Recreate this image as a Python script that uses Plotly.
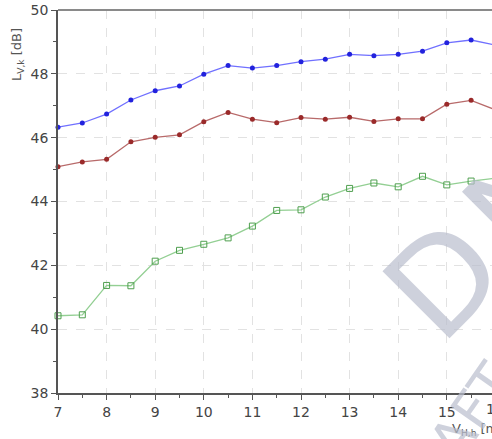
import plotly.graph_objects as go

wind_speed = [7.0, 7.5, 8.0, 8.5, 9.0, 9.5, 10.0, 10.5, 11.0, 11.5, 12.0, 12.5,
              13.0, 13.5, 14.0, 14.5, 15.0, 15.5, 16.0]
level_blue = [46.33, 46.46, 46.74, 47.18, 47.47, 47.62, 47.99, 48.26, 48.18, 48.26,
              48.38, 48.46, 48.61, 48.57, 48.61, 48.71, 48.97, 49.06, 48.90]
level_red = [45.09, 45.24, 45.32, 45.87, 46.01, 46.09, 46.50, 46.79, 46.58, 46.47,
             46.63, 46.58, 46.64, 46.51, 46.59, 46.59, 47.05, 47.17, 46.87]
level_green = [40.42, 40.45, 41.37, 41.36, 42.13, 42.47, 42.66, 42.86, 43.23, 43.72,
               43.74, 44.14, 44.41, 44.58, 44.46, 44.79, 44.52, 44.64, 44.73]
x_ticks = [7, 8, 9, 10, 11, 12, 13, 14, 15]
y_ticks = [38, 40, 42, 44, 46, 48, 50]

W, H = 492, 439
ML, MR, MT, MB = 58, 0, 10, 46
x_range = [7, 15.93]
y_range = [38, 50]

fig = go.Figure()
fig.add_trace(go.Scatter(x=wind_speed, y=level_green, mode="lines+markers",
                         line=dict(color="#93cf93", width=1.3),
                         marker=dict(symbol="square-open", size=6, color="#4f9f4f",
                                     line=dict(width=1)),
                         cliponaxis=False, showlegend=False))
fig.add_trace(go.Scatter(x=wind_speed, y=level_red, mode="lines+markers",
                         line=dict(color="#b86a6a", width=1.3),
                         marker=dict(symbol="circle", size=5, color="#9a2a2a"),
                         cliponaxis=False, showlegend=False))
fig.add_trace(go.Scatter(x=wind_speed, y=level_blue, mode="lines+markers",
                         line=dict(color="#7070ff", width=1.3),
                         marker=dict(symbol="circle", size=5, color="#2222dd"),
                         cliponaxis=False, showlegend=False))

tickfont = dict(family="DejaVu Sans", size=14, color="#444444")
fig.update_xaxes(range=x_range, tickvals=x_ticks, ticks="outside", ticklen=5,
                 tickcolor="#555555", showline=True, linecolor="#555555", linewidth=1.5,
                 showgrid=True, gridcolor="#e2e2e2", griddash="dash", gridwidth=1,
                 zeroline=False, tickfont=tickfont,
                 minor=dict(dtick=0.5, ticks="outside", ticklen=3, tickcolor="#555555",
                            showgrid=False))
fig.update_yaxes(range=y_range, tickvals=y_ticks, ticks="outside", ticklen=5,
                 tickcolor="#555555", showline=True, linecolor="#555555", linewidth=1.5,
                 showgrid=True, gridcolor="#e2e2e2", griddash="dash", gridwidth=1,
                 zeroline=False, tickfont=tickfont,
                 minor=dict(dtick=1, ticks="outside", ticklen=3, tickcolor="#555555",
                            showgrid=False))

pw = W - ML - MR
ph = H - MT - MB

def px(xp):
    return (xp - ML) / pw

def py(yp):
    return (H - MB - yp) / ph

wm = "rgba(185,190,205,0.7)"
annotations = [
    # clipped "16" tick label at right edge
    dict(x=(16 - x_range[0]) / (x_range[1] - x_range[0]), y=py(409), xref="paper", yref="paper",
         text="16", showarrow=False, xanchor="center", yanchor="middle", font=tickfont),
    # axis titles
    dict(x=px(450), y=py(429), xref="paper", yref="paper",
         text="V<sub>H,h</sub> [m/s]", showarrow=False, xanchor="left", yanchor="middle",
         font=dict(family="DejaVu Sans", size=13, color="#555555")),
    dict(x=px(17), y=py(55), xref="paper", yref="paper",
         text="L<sub>V,k</sub> [dB]", showarrow=False, textangle=-90,
         xanchor="center", yanchor="middle",
         font=dict(family="DejaVu Sans", size=13, color="#555555")),
    # watermark
    dict(x=px(444), y=py(280), xref="paper", yref="paper", text="D", showarrow=False,
         textangle=-45, xanchor="center", yanchor="middle",
         font=dict(family="DejaVu Sans", size=130, color=wm)),
    dict(x=px(522), y=py(202), xref="paper", yref="paper", text="N", showarrow=False,
         textangle=-45, xanchor="center", yanchor="middle",
         font=dict(family="DejaVu Sans", size=130, color=wm)),
    dict(x=px(472), y=py(412), xref="paper", yref="paper", text="AFT", showarrow=False,
         textangle=-55, xanchor="center", yanchor="middle",
         font=dict(family="DejaVu Sans", size=55, color=wm)),
]

fig.update_layout(
    width=W, height=H,
    margin=dict(l=ML, r=MR, t=MT, b=MB, pad=0),
    paper_bgcolor="white", plot_bgcolor="white",
    annotations=annotations,
    shapes=[dict(type="line", xref="paper", yref="paper", x0=0, x1=1, y0=1, y1=1,
                 line=dict(color="#8a8a8a", width=2))],
)

fig.write_html("out.html", config={"displayModeBar": False})
